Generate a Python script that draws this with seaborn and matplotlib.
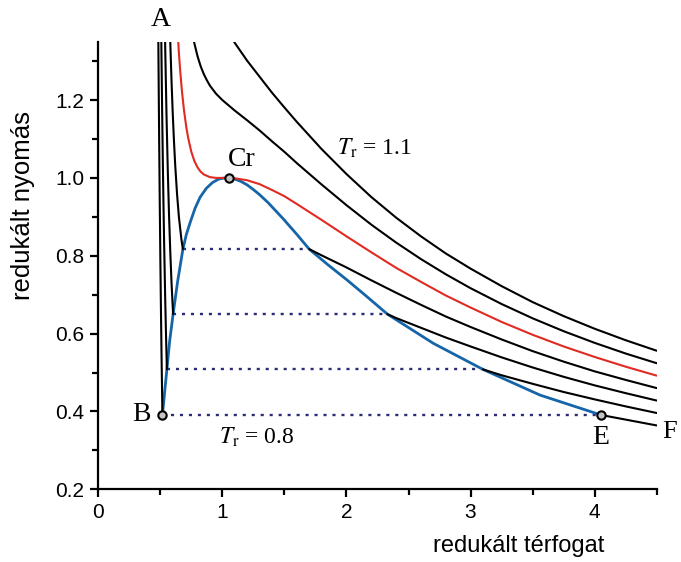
import matplotlib
matplotlib.use("Agg")
import matplotlib.pyplot as plt
import seaborn as sns

# reduced volume / reduced pressure
# supercritical isotherms
v_t110 = [0.9, 1.0, 1.1, 1.2, 1.3, 1.4, 1.5, 1.6, 1.8, 2.0, 2.2, 2.4, 2.6, 2.8,
          3.0, 3.25, 3.5, 3.75, 4.0, 4.25, 4.5]
p_t110 = [1.473, 1.4, 1.347, 1.301, 1.260, 1.219, 1.181, 1.144, 1.074, 1.010,
          0.951, 0.898, 0.850, 0.806, 0.767, 0.722, 0.681, 0.645, 0.6125, 0.583, 0.556]

v_t105 = [0.75, 0.775, 0.8, 0.825, 0.85, 0.875, 0.9, 0.95, 1.0, 1.1, 1.2, 1.3,
          1.4, 1.5, 1.6, 1.8, 2.0, 2.2, 2.4, 2.6, 2.8, 3.0, 3.25, 3.5, 3.75, 4.0,
          4.25, 4.5]
p_t105 = [1.387, 1.345, 1.3125, 1.287, 1.267, 1.251, 1.237, 1.216, 1.2, 1.173,
          1.148, 1.122, 1.094, 1.067, 1.038, 0.983, 0.930, 0.880, 0.834, 0.7915,
          0.7525, 0.7167, 0.676, 0.6393, 0.6062, 0.5762, 0.5488, 0.5239]

# critical isotherm (red)
v_t100 = [0.62, 0.63, 0.65, 0.66, 0.675, 0.69, 0.71, 0.725, 0.75, 0.775, 0.8,
          0.825, 0.85, 0.9, 0.95, 1.0, 1.1, 1.2, 1.3, 1.4, 1.5, 1.6, 1.8, 2.0,
          2.2, 2.4, 2.6, 2.8, 3.0, 3.25, 3.5, 3.75, 4.0, 4.25, 4.5]
p_t100 = [1.498, 1.430, 1.320, 1.276, 1.221, 1.176, 1.129, 1.102, 1.067, 1.043,
          1.027, 1.016, 1.009, 1.002, 1.000, 1.000, 0.999, 0.994, 0.984, 0.969,
          0.953, 0.933, 0.892, 0.850, 0.809, 0.769, 0.733, 0.698, 0.667, 0.630,
          0.597, 0.567, 0.540, 0.515, 0.492]

# subcritical isotherms: liquid branch and gas branch
v_t095_liq = [0.57, 0.58, 0.59, 0.6, 0.61, 0.62, 0.635, 0.65, 0.67, 0.682]
p_t095_liq = [1.470, 1.352, 1.252, 1.167, 1.095, 1.033, 0.958, 0.899, 0.842, 0.817]
v_t095_gas = [1.70, 1.8, 2.0, 2.2, 2.4, 2.6, 2.8, 3.0, 3.25, 3.5, 3.75, 4.0, 4.25, 4.5]
p_t095_gas = [0.817, 0.801, 0.770, 0.737, 0.705, 0.674, 0.644, 0.617, 0.585,
              0.555, 0.528, 0.503, 0.481, 0.460]

v_t090_liq = [0.535, 0.54, 0.55, 0.56, 0.57, 0.58, 0.59, 0.603]
p_t090_liq = [1.42, 1.325, 1.160, 1.022, 0.907, 0.812, 0.733, 0.65]
v_t090_gas = [2.33, 2.4, 2.6, 2.8, 3.0, 3.25, 3.5, 3.75, 4.0, 4.25, 4.5]
p_t090_gas = [0.65, 0.640, 0.615, 0.590, 0.567, 0.539, 0.513, 0.489, 0.467, 0.447, 0.428]

v_t085_liq = [0.505, 0.51, 0.515, 0.52, 0.525, 0.53, 0.54, 0.547, 0.553]
p_t085_liq = [1.441, 1.296, 1.166, 1.048, 0.942, 0.845, 0.680, 0.582, 0.508]
v_t085_gas = [3.10, 3.25, 3.5, 3.75, 4.0, 4.25, 4.5]
p_t085_gas = [0.508, 0.493, 0.471, 0.450, 0.431, 0.413, 0.396]

v_t080_liq = [0.48, 0.485, 0.49, 0.495, 0.5, 0.505, 0.51, 0.517]
p_t080_liq = [1.525, 1.312, 1.122, 0.952, 0.8, 0.664, 0.541, 0.391]
v_t080_gas = [4.05, 4.15, 4.25, 4.35, 4.5]
p_t080_gas = [0.391, 0.385, 0.379, 0.373, 0.364]

# coexistence curve (blue)
v_coex = [0.517, 0.535, 0.553, 0.575, 0.603, 0.64, 0.682, 0.71, 0.74, 0.78,
          0.82, 0.87, 0.92, 0.97, 1.01, 1.05, 1.10, 1.15, 1.20, 1.25, 1.30, 1.37,
          1.49, 1.60, 1.70, 1.85, 2.0, 2.15, 2.33, 2.70, 3.10, 3.56, 4.05]
p_coex = [0.391, 0.45, 0.508, 0.58, 0.65, 0.735, 0.817, 0.855, 0.885, 0.922,
          0.950, 0.973, 0.988, 0.997, 0.9995, 1.0, 0.997, 0.991, 0.982, 0.970,
          0.957, 0.936, 0.895, 0.855, 0.817, 0.777, 0.739, 0.699, 0.65, 0.575,
          0.508, 0.442, 0.391]

# Maxwell tie lines
p_tie = [0.391, 0.508, 0.65, 0.817]
v_tie_liq = [0.517, 0.553, 0.603, 0.682]
v_tie_gas = [4.05, 3.10, 2.33, 1.70]

# marked points B, Cr, E
v_pts = [0.517, 1.05, 4.05]
p_pts = [0.391, 1.0, 0.391]

sns.set_style("ticks")
plt.rcParams["font.family"] = ["Liberation Sans", "DejaVu Sans"]
plt.rcParams["mathtext.fontset"] = "stix"
plt.rcParams["text.color"] = "black"
plt.rcParams["axes.labelcolor"] = "black"

fig = plt.figure(figsize=(6.81, 5.62), dpi=100)
ax = fig.add_axes([0.1443, 0.1294, 0.8200, 0.7964])

black_curves = [
    (v_t110, p_t110), (v_t105, p_t105),
    (v_t095_liq, p_t095_liq), (v_t095_gas, p_t095_gas),
    (v_t090_liq, p_t090_liq), (v_t090_gas, p_t090_gas),
    (v_t085_liq, p_t085_liq), (v_t085_gas, p_t085_gas),
    (v_t080_liq, p_t080_liq), (v_t080_gas, p_t080_gas),
]

# dotted tie lines
for vl, vg, pt in zip(v_tie_liq, v_tie_gas, p_tie):
    sns.lineplot(x=[vl, vg], y=[pt, pt], ax=ax, color="#2b2a78", lw=1.7,
                 sort=False, estimator=None)
for line in ax.lines:
    line.set_linestyle((0, (1.3, 2.5)))

sns.lineplot(x=v_coex, y=p_coex, ax=ax, color="#1565a8", lw=2.0,
             sort=False, estimator=None)
for vv, pp in black_curves:
    sns.lineplot(x=vv, y=pp, ax=ax, color="black", lw=1.5,
                 sort=False, estimator=None)
sns.lineplot(x=v_t100, y=p_t100, ax=ax, color="#e02a22", lw=1.5,
             sort=False, estimator=None)

ax.plot(v_pts, p_pts, ls="none", marker="o", ms=6, mfc="#c4c4c4",
        mec="black", mew=1.5, zorder=6)

ax.set_xlim(0, 4.5)
ax.set_ylim(0.2, 1.35)
ax.set_xticks([0, 1, 2, 3, 4])
ax.set_xticks([0.5, 1.5, 2.5, 3.5, 4.5], minor=True)
ax.set_yticks([0.2, 0.4, 0.6, 0.8, 1.0, 1.2])
ax.set_yticks([0.3, 0.5, 0.7, 0.9, 1.1, 1.3], minor=True)
ax.set_yticklabels(["0.2", "0.4", "0.6", "0.8", "1.0", "1.2"])
ax.tick_params(which="major", length=6, width=1.6, labelsize=15, pad=4,
               color="black", labelcolor="black")
ax.tick_params(which="minor", length=4, width=1.6, color="black")
for s in ["left", "bottom"]:
    ax.spines[s].set_linewidth(1.6)
    ax.spines[s].set_color("black")
sns.despine(ax=ax)

ax.set_xlabel("redukált térfogat", fontsize=17, color="black")
ax.set_ylabel("redukált nyomás", fontsize=18.5, color="black")
ax.xaxis.set_label_coords(0.752, -0.103)
ax.yaxis.set_label_coords(-0.113, 0.635)

serif = ["Liberation Serif", "DejaVu Serif"]
ax.text(0.50, 1.408, "A", fontsize=20, family=serif, ha="center", va="center", clip_on=False)
ax.text(0.35, 0.391, "B", fontsize=20, family=serif, ha="center", va="center")
ax.text(1.16, 1.047, "Cr", fontsize=20, family=serif, ha="center", va="center")
ax.text(4.05, 0.334, "E", fontsize=20, family=serif, ha="center", va="center")
ax.text(4.545, 0.347, "F", fontsize=19, family=serif, ha="left", va="center", clip_on=False)
ax.text(2.23, 1.077, r"$T_\mathrm{r}$ = 1.1", fontsize=17, family=serif,
        ha="center", va="center")
ax.text(1.28, 0.334, r"$T_\mathrm{r}$ = 0.8", fontsize=17, family=serif,
        ha="center", va="center")

fig.savefig("out.png", dpi=100)
